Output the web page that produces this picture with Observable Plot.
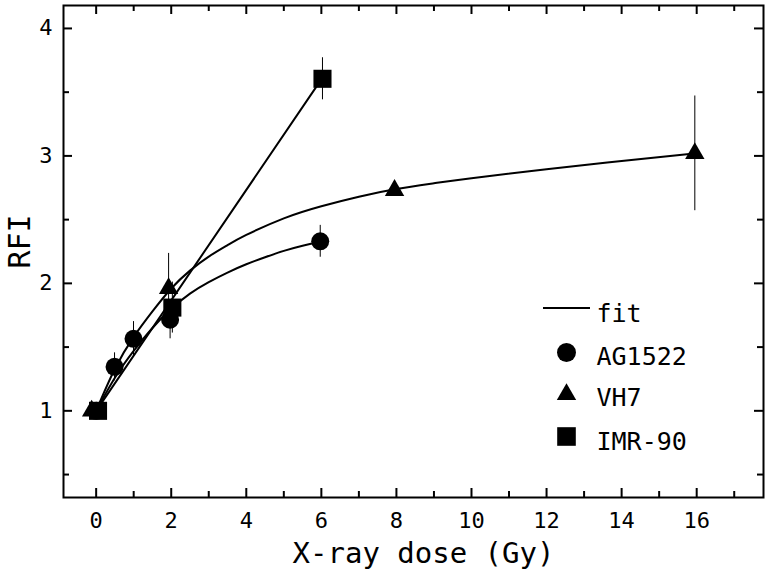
<!DOCTYPE html>
<html><head><meta charset="utf-8">
<script src="https://cdn.jsdelivr.net/npm/d3@7"></script>
<script src="https://cdn.jsdelivr.net/npm/@observablehq/plot@0.6"></script>
<style>body{margin:0;background:#fff}</style>
</head><body><div id="chart"></div>
<script>
// Measured points
const agDose = [0, 0.49, 0.995, 1.97, 5.97];
const agRfi  = [1, 1.345, 1.565, 1.715, 2.33];
const agErr  = [0, 0.11, 0.135, 0.15, 0.125];
const vhDose = [-0.12, 1.93, 7.95, 15.95];
const vhRfi  = [1, 1.96, 2.73, 3.02];
const vhErr  = [0, 0.275, 0.04, 0.45];
const imrDose = [0.05, 2.03, 6.03];
const imrRfi  = [1, 1.81, 3.605];
const imrErr  = [0, 0.2, 0.165];
// Fit curves
const agFitDose = [0, 0.5, 1, 1.5, 2, 2.5, 3, 3.5, 4, 4.5, 5, 5.5, 6];
const agFitRfi  = [1, 1.26, 1.47, 1.65, 1.80, 1.92, 2.01, 2.085, 2.15, 2.205, 2.255, 2.295, 2.33];
const vhFitDose = [0, 0.5, 1, 1.5, 2, 2.5, 3, 3.5, 4, 5, 6, 7, 8, 9, 10, 12, 14, 16];
const vhFitRfi  = [1, 1.33, 1.58, 1.78, 1.96, 2.10, 2.21, 2.30, 2.38, 2.51, 2.605, 2.68, 2.74, 2.785, 2.825, 2.895, 2.96, 3.02];
const imrFitDose = [0, 6];
const imrFitRfi  = [1, 3.6];
// Axes
const xMajor = [0, 2, 4, 6, 8, 10, 12, 14, 16];
const xMinor = [1, 3, 5, 7, 9, 11, 13, 15, 17];
const yMajor = [1, 2, 3, 4];
const yMinor = [0.5, 1.5, 2.5, 3.5];
const legendLabels = ["fit", "AG1522", "VH7", "IMR-90"];

const zip = (xs, ys, es) => xs.map((x, i) => ({x, y: ys[i], e: es ? es[i] : 0}));
const ag = zip(agDose, agRfi, agErr), vh = zip(vhDose, vhRfi, vhErr), imr = zip(imrDose, imrRfi, imrErr);
const agFit = zip(agFitDose, agFitRfi), vhFit = zip(vhFitDose, vhFitRfi), imrFit = zip(imrFitDose, imrFitRfi);

const W = 772, H = 581, mL = 63, mR = 9, mT = 5, mB = 84;
const iW = W - mL - mR, iH = H - mT - mB;
const font = "'DejaVu Sans Mono', monospace";

const errBars = d => Plot.ruleX(d.filter(p => p.e > 0), {x: "x", y1: p => p.y - p.e, y2: p => p.y + p.e, stroke: "black", strokeWidth: 1});

const legendLine = (index, scales, values, dims) => {
  return d3.create("svg:line")
    .attr("x1", dims.marginLeft + 480).attr("x2", dims.marginLeft + 527)
    .attr("y1", dims.marginTop + 303).attr("y2", dims.marginTop + 303)
    .attr("stroke", "black").attr("stroke-width", 2).node();
};

const legendText = (label, dy) => Plot.text([label], {frameAnchor: "top-left", lineAnchor: "middle", dx: 533, dy, text: d => d, textAnchor: "start", fontSize: 25, fill: "black"});

const chart = Plot.plot({
  width: W, height: H,
  marginLeft: mL, marginRight: mR, marginTop: mT, marginBottom: mB,
  style: {fontFamily: font, fontSize: "22px", background: "white", color: "black"},
  x: {domain: [-0.87, 17.78]},
  y: {domain: [0.32, 4.18]},
  marks: [
    Plot.axisX({ticks: xMajor, tickSize: 0, tickPadding: 15, label: null, fontSize: 22, tickFormat: d3.format("d")}),
    Plot.axisY({ticks: yMajor, tickSize: 0, tickPadding: 11, label: null, fontSize: 22, tickFormat: d3.format("d")}),
    // inward ticks
    Plot.tickX(xMajor, {x: d => d, insetTop: iH - 9, strokeWidth: 2}),
    Plot.tickX(xMinor, {x: d => d, insetTop: iH - 6, strokeWidth: 2}),
    Plot.tickX(xMajor, {x: d => d, insetBottom: iH - 9, strokeWidth: 2}),
    Plot.tickX(xMinor, {x: d => d, insetBottom: iH - 6, strokeWidth: 2}),
    Plot.tickY(yMajor, {y: d => d, insetRight: iW - 9, strokeWidth: 2}),
    Plot.tickY(yMinor, {y: d => d, insetRight: iW - 6, strokeWidth: 2}),
    Plot.tickY(yMajor, {y: d => d, insetLeft: iW - 9, strokeWidth: 2}),
    Plot.tickY(yMinor, {y: d => d, insetLeft: iW - 6, strokeWidth: 2}),
    Plot.frame({stroke: "black", strokeWidth: 2}),
    // axis labels
    Plot.text(["X-ray dose (Gy)"], {frameAnchor: "bottom", lineAnchor: "middle", dx: 10, dy: 56, text: d => d, fontSize: 29, fill: "black"}),
    Plot.text(["RFI"], {frameAnchor: "left", lineAnchor: "middle", dx: -43.5, dy: 17, rotate: -90, text: d => d, fontSize: 30, fill: "black"}),
    // error bars
    errBars(ag), errBars(vh), errBars(imr),
    // fits
    Plot.line(agFit, {x: "x", y: "y", curve: "natural", stroke: "black", strokeWidth: 2}),
    Plot.line(vhFit, {x: "x", y: "y", curve: "natural", stroke: "black", strokeWidth: 2}),
    Plot.line(imrFit, {x: "x", y: "y", stroke: "black", strokeWidth: 2}),
    // points
    Plot.dot(ag, {x: "x", y: "y", symbol: "circle", r: 9, fill: "black"}),
    Plot.dot(vh, {x: "x", y: "y", symbol: "triangle", r: 7.2, fill: "black"}),
    Plot.dot(imr, {x: "x", y: "y", symbol: "square", r: 10.2, fill: "black"}),
    // legend
    legendLine,
    Plot.dot([0], {frameAnchor: "top-left", dx: 503, dy: 347, symbol: "circle", r: 9.5, fill: "black"}),
    Plot.dot([0], {frameAnchor: "top-left", dx: 503, dy: 389, symbol: "triangle", r: 7.2, fill: "black"}),
    Plot.dot([0], {frameAnchor: "top-left", dx: 503, dy: 431, symbol: "square", r: 10.5, fill: "black"}),
    legendText(legendLabels[0], 308),
    legendText(legendLabels[1], 351),
    legendText(legendLabels[2], 392.5),
    legendText(legendLabels[3], 436)
  ]
});
document.getElementById("chart").append(chart);
</script>
</body></html>
